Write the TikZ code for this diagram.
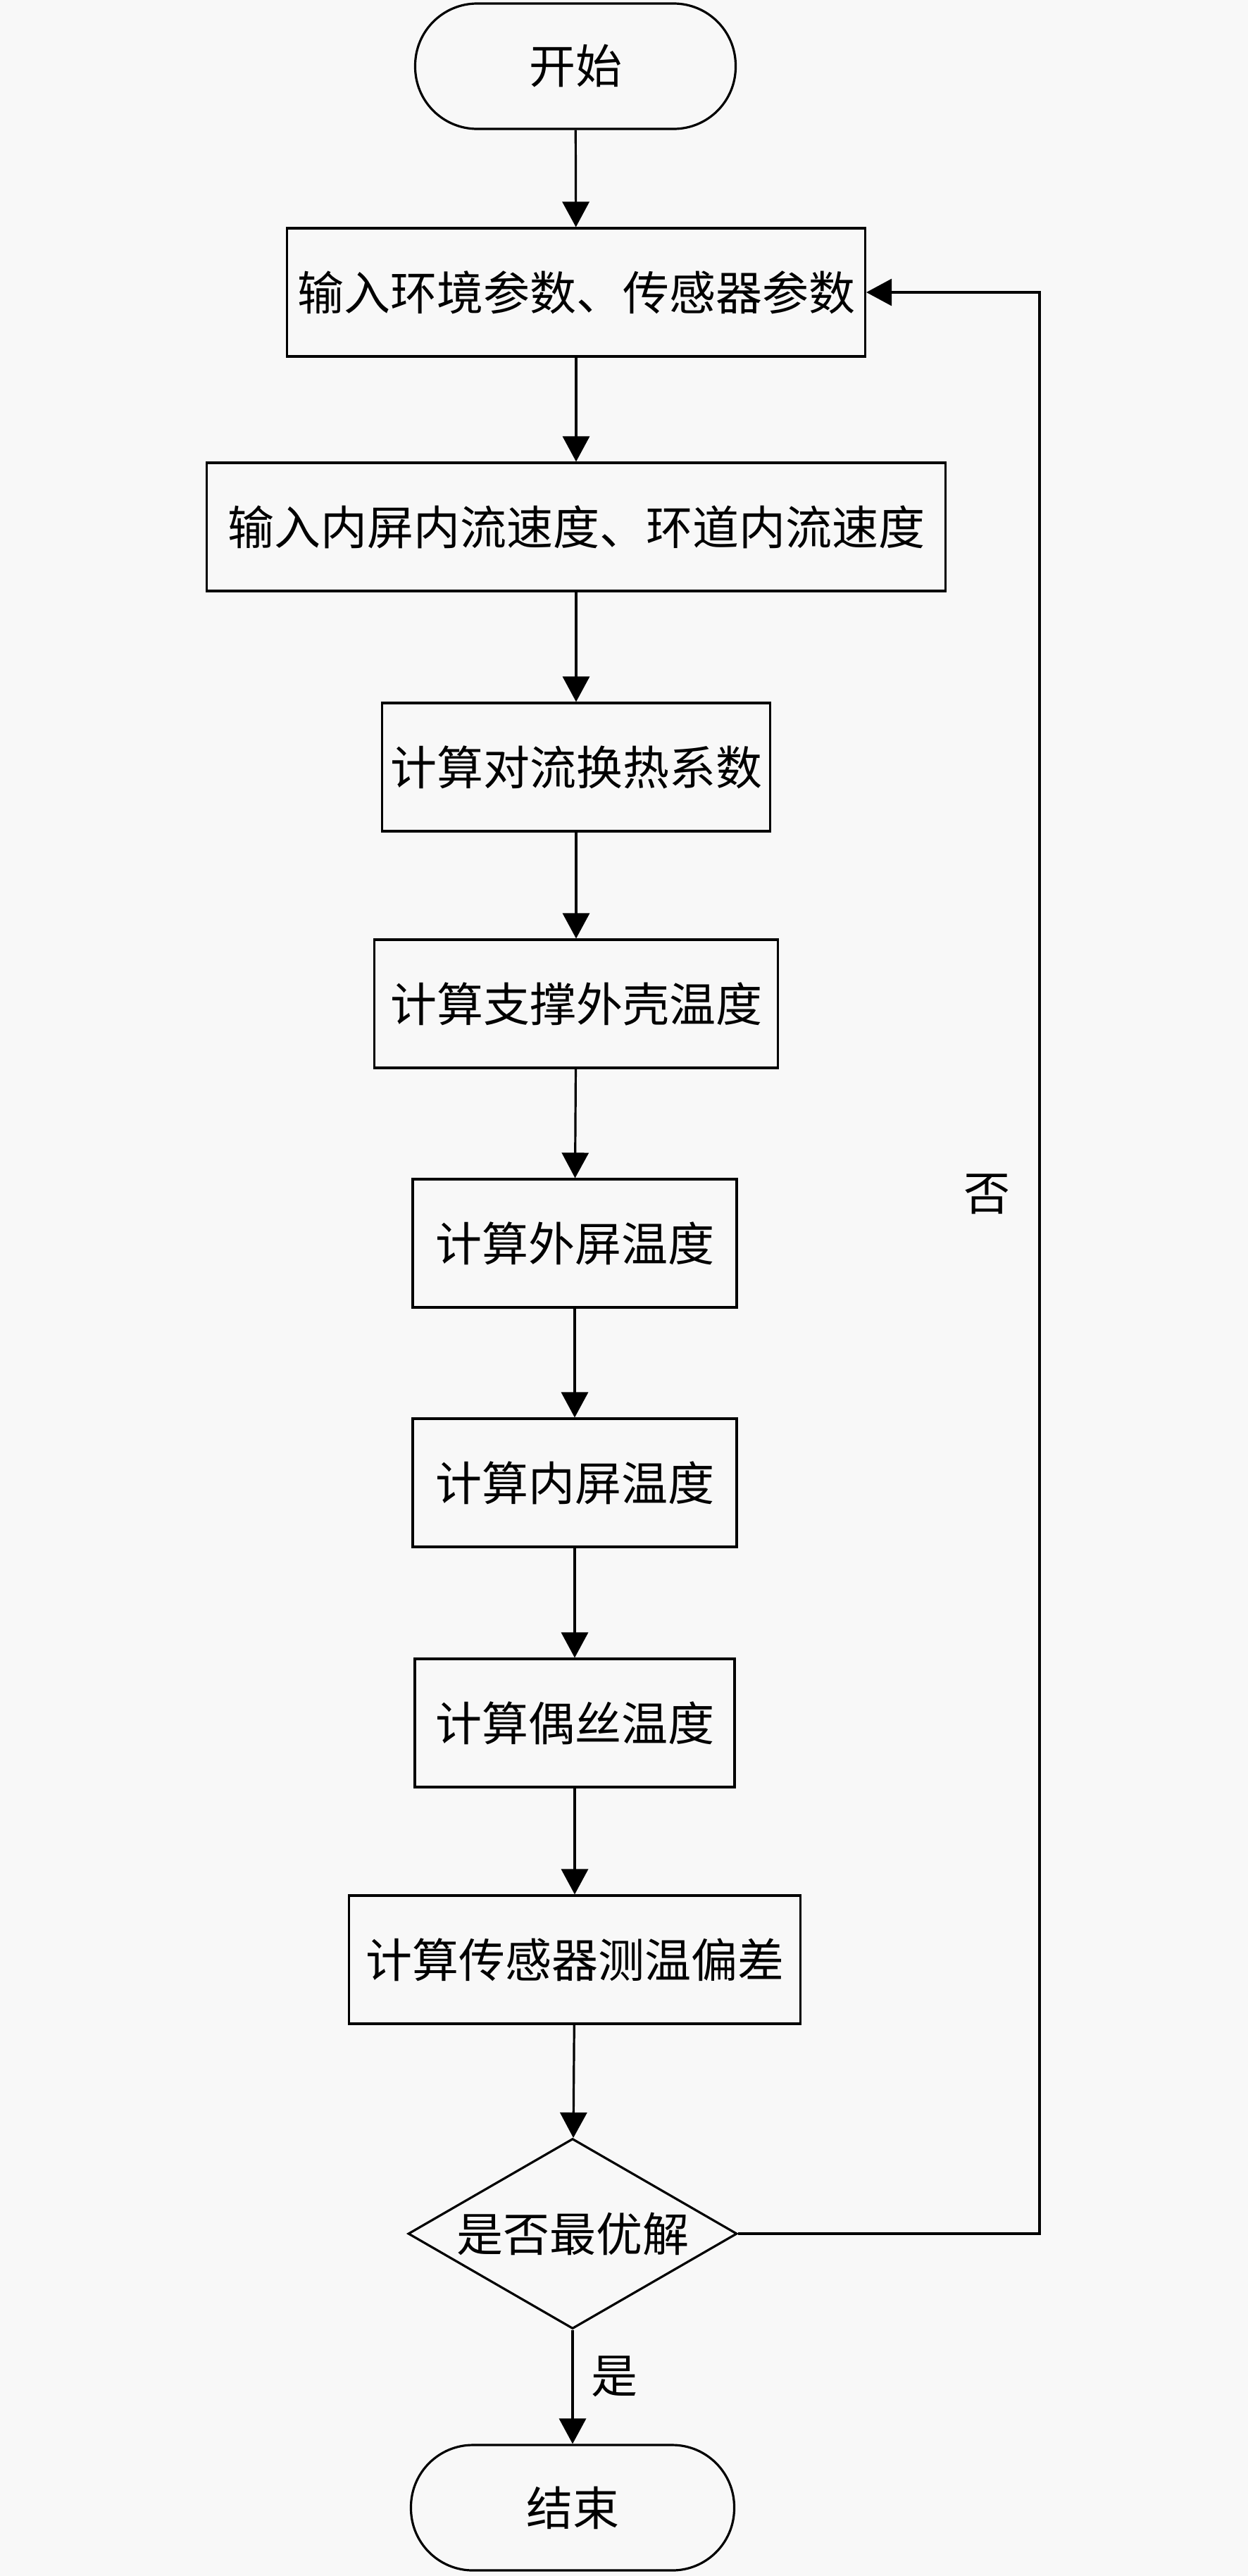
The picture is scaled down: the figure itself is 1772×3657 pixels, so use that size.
\documentclass[tikz,border=0pt]{standalone}
\usepackage{fontspec}
\newfontfamily\cjk{Noto Sans CJK SC}
\usetikzlibrary{shapes.geometric,arrows.meta}
\definecolor{bgc}{RGB}{248,248,248}
\begin{document}
\begin{tikzpicture}[x=1pt,y=-1pt,
  base/.style={draw=black,line width=3.2pt,inner sep=0pt,font=\cjk\fontsize{66pt}{72pt}\selectfont,text=black},
  term/.style={base,rectangle,rounded corners=88pt,minimum width=#1,minimum height=178pt},
  proc/.style={base,rectangle,minimum width=#1,minimum height=182pt},
  dec/.style={base,diamond,shape aspect=1.73,minimum width=467pt,minimum height=270pt},
  lab/.style={font=\cjk\fontsize{66pt}{72pt}\selectfont,text=black,inner sep=0pt},
  arr/.style={line width=3.2pt,-{Triangle[length=36pt,width=38pt]}}]
\fill[bgc] (0,0) rectangle (1772,3657);
\useasboundingbox (0,0) rectangle (1772,3657);
\node[term=455pt] (s) at (817,94) {开始};
\node[proc=821pt] (b1) at (818,415) {输入环境参数、传感器参数};
\node[proc=1049pt] (b2) at (818,748) {输入内屏内流速度、环道内流速度};
\node[proc=551pt] (b3) at (818,1089) {计算对流换热系数};
\node[proc=573pt] (b4) at (818,1425) {计算支撑外壳温度};
\node[proc=460pt] (b5) at (816,1765) {计算外屏温度};
\node[proc=460pt] (b6) at (816,2105) {计算内屏温度};
\node[proc=454pt] (b7) at (816,2446) {计算偶丝温度};
\node[proc=641pt] (b8) at (816,2782) {计算传感器测温偏差};
\node[dec] (d) at (813,3171) {是否最优解};
\node[term=459pt] (e) at (813,3560) {结束};
\coordinate (lc) at (1476,3171);
\draw[arr] (s) -- (b1);
\draw[arr] (b1) -- (b2);
\draw[arr] (b2) -- (b3);
\draw[arr] (b3) -- (b4);
\draw[arr] (b4) -- (b5);
\draw[arr] (b5) -- (b6);
\draw[arr] (b6) -- (b7);
\draw[arr] (b7) -- (b8);
\draw[arr] (b8) -- (d);
\draw[arr] (d) -- (e);
\draw[arr] (d.east) -- (lc) |- (b1.east);
\node[lab] (no) at (1401,1695) {否};
\node[lab] (yes) at (872,3374) {是};
\end{tikzpicture}
\end{document}
